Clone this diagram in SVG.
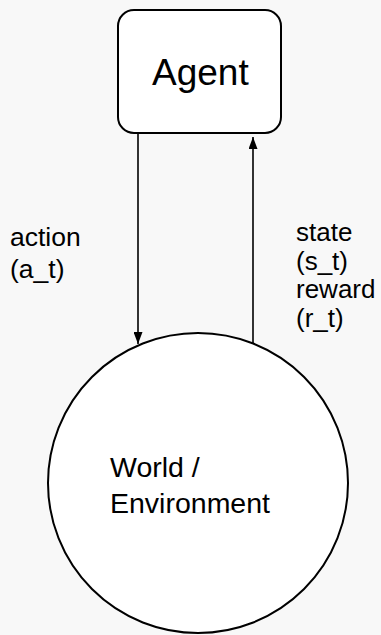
<svg xmlns="http://www.w3.org/2000/svg" width="381" height="635" viewBox="0 0 381 635">
  <defs>
    <marker id="arrow" viewBox="0 0 10 10" refX="10" refY="5" markerWidth="12" markerHeight="9" markerUnits="userSpaceOnUse" orient="auto" preserveAspectRatio="none">
      <path d="M0,0 L10,5 L0,10 z" fill="#000"/>
    </marker>
    <style>
      .node { fill: #fff; stroke: #000; stroke-width: 2; }
      .edge { stroke: #000; stroke-width: 1.6; fill: none; marker-end: url(#arrow); }
      .label { font-family: "Liberation Sans", Arial, sans-serif; fill: #000; }
    </style>
  </defs>
  <rect x="0" y="0" width="381" height="635" fill="#f8f8f8"/>

  <g id="agent">
    <rect class="node" x="118" y="10" width="163" height="123" rx="16" ry="16"/>
    <text class="label" x="152" y="85" font-size="37">Agent</text>
  </g>

  <g id="environment">
    <circle class="node" cx="198" cy="483" r="150"/>
    <text class="label" x="110" y="477" font-size="28.5">World /</text>
    <text class="label" x="110" y="513" font-size="28.5">Environment</text>
  </g>

  <g id="connectors">
    <line class="edge" x1="138" y1="134" x2="138" y2="344"/>
    <line class="edge" x1="253" y1="343" x2="253" y2="137"/>
  </g>

  <g id="edge-labels">
    <text class="label" x="10" y="246" font-size="26.5">action</text>
    <text class="label" x="10" y="278" font-size="26.5">(a_t)</text>
    <text class="label" x="296" y="241" font-size="26">state</text>
    <text class="label" x="296" y="270" font-size="26">(s_t)</text>
    <text class="label" x="296" y="298" font-size="26">reward</text>
    <text class="label" x="296" y="327" font-size="26">(r_t)</text>
  </g>
</svg>
